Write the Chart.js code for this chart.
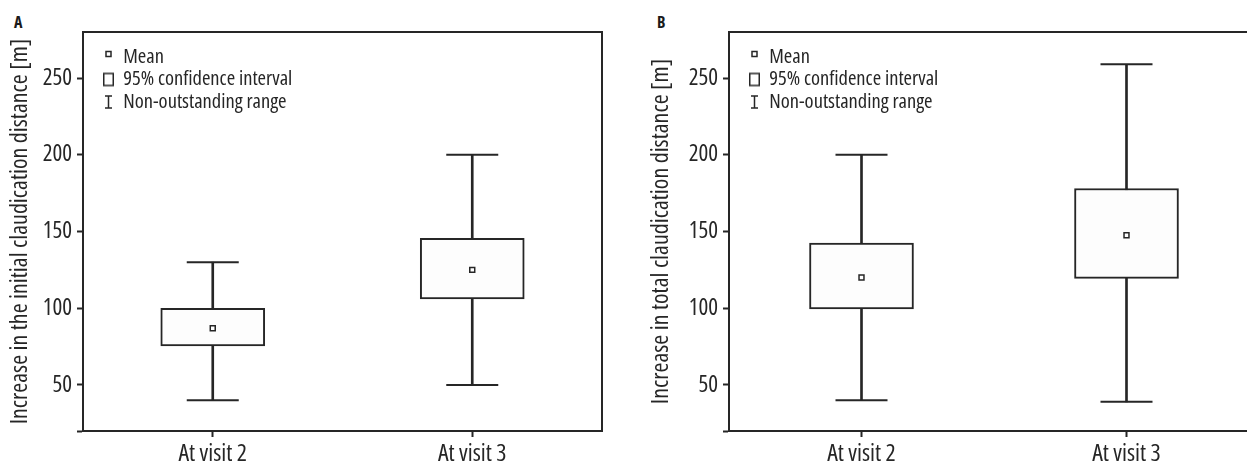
<!DOCTYPE html>
<html lang="en">
<head>
  <meta charset="UTF-8" />
  <title>Claudication distance</title>
  <script src="https://cdn.jsdelivr.net/npm/chart.js"></script>
  <style>
    body {
      margin: 0;
      width: 1247px;
      height: 464px;
      overflow: hidden;
      position: relative;
      background: #fff;
      font-family: "Open Sans", sans-serif;
      font-stretch: condensed;
      color: #1a1a1a;
    }
    .panel {
      position: absolute;
      top: 0;
      height: 464px;
    }
    .tag {
      position: absolute;
      top: 14px;
      font-size: 16px;
      line-height: 16px;
      font-weight: bold;
    }
  </style>
</head>
<body>
  <div class="tag" style="left:14px">A</div>
  <div class="tag" style="left:657px">B</div>
  <div class="panel" style="left:0; width:620px"><canvas id="chartA"></canvas></div>
  <div class="panel" style="left:641px; width:640px"><canvas id="chartB"></canvas></div>

  <script>
    const categories = ['At visit 2', 'At visit 3'];
    const yTicks = [50, 100, 150, 200, 250];
    const yMin = 20;
    const yMax = 280;

    // A: initial claudication distance
    const aWhiskerLow = [40, 50];
    const aWhiskerHigh = [130, 200];
    const aCiLow = [75.5, 106];
    const aCiHigh = [100, 145.5];
    const aMean = [87, 125];

    // B: total claudication distance
    const bWhiskerLow = [40, 39];
    const bWhiskerHigh = [200, 259];
    const bCiLow = [99.5, 119.5];
    const bCiHigh = [142.5, 178];
    const bMean = [120, 147.5];

    const ink = '#262626';
    // Open Sans squeezed through the font shorthand (weight slot carries the stretch keyword)
    const narrow = (size) => ({ family: '"Open Sans"', weight: 'condensed', size: size });

    function icon(draw) {
      const c = document.createElement('canvas');
      c.width = 32;
      c.height = 24;
      const g = c.getContext('2d');
      g.strokeStyle = ink;
      g.lineWidth = 1.5;
      draw(g);
      return c;
    }
    const meanIcon = icon(g => { g.fillStyle = '#fff'; g.fillRect(23, 6.5, 5, 5); g.strokeRect(23, 6.5, 5, 5); });
    const ciIcon = icon(g => { g.strokeRect(20.75, 6, 9.5, 12); });
    const rangeIcon = icon(g => {
      g.beginPath();
      g.moveTo(22, 6); g.lineTo(29, 6);
      g.moveTo(25.5, 6); g.lineTo(25.5, 18);
      g.moveTo(22, 18); g.lineTo(29, 18);
      g.stroke();
    });

    const frame = {
      id: 'frame',
      beforeDatasetsDraw(chart) {
        const { ctx, chartArea: a } = chart;
        ctx.save();
        ctx.strokeStyle = ink;
        ctx.lineWidth = 2;
        ctx.beginPath();
        ctx.moveTo(a.left, a.top);
        ctx.lineTo(a.right, a.top);
        ctx.lineTo(a.right, a.bottom);
        ctx.stroke();
        ctx.restore();
      }
    };

    function makeChart(id, yTitle, axisWidth, padRight, lo, hi, ciLo, ciHi, mean) {
      const ctx = document.getElementById(id).getContext('2d');
      return new Chart(ctx, {
        type: 'bar',
        data: {
          labels: categories,
          datasets: [
            {
              label: 'range',
              data: lo.map((v, i) => [v, hi[i]]),
              backgroundColor: ink,
              barThickness: 2,
              grouped: false,
              order: 3
            },
            {
              label: 'ci',
              data: ciLo.map((v, i) => [v, ciHi[i]]),
              backgroundColor: '#fdfdfd',
              borderColor: ink,
              borderWidth: 2,
              borderSkipped: false,
              barThickness: 104,
              grouped: false,
              order: 2
            },
            {
              type: 'line',
              label: 'upper',
              data: hi,
              showLine: false,
              pointStyle: 'line',
              pointRadius: 26,
              pointHoverRadius: 26,
              borderColor: ink,
              borderWidth: 2,
              order: 1
            },
            {
              type: 'line',
              label: 'lower',
              data: lo,
              showLine: false,
              pointStyle: 'line',
              pointRadius: 26,
              pointHoverRadius: 26,
              borderColor: ink,
              borderWidth: 2,
              order: 1
            },
            {
              type: 'line',
              label: 'mean',
              data: mean,
              showLine: false,
              pointStyle: 'rect',
              pointRadius: 3.5,
              backgroundColor: '#fff',
              borderColor: ink,
              borderWidth: 1.5,
              order: 0
            }
          ]
        },
        options: {
          responsive: true,
          maintainAspectRatio: false,
          animation: false,
          // the wide cap points would otherwise push the plot in from the right
          layout: { autoPadding: false, padding: { top: 32, right: padRight, bottom: 0, left: 0 } },
          plugins: {
            tooltip: { enabled: false },
            legend: {
              position: 'chartArea',
              align: 'start',
              fullSize: false,
              title: { display: true, text: '', font: { size: 10, lineHeight: 1 }, padding: { top: 34.7, bottom: 0 } },
              labels: {
                usePointStyle: true,
                pointStyleWidth: 28,
                padding: 2,
                color: ink,
                font: narrow(20.5),
                generateLabels: () => [
                  { text: 'Mean', pointStyle: meanIcon, fontColor: ink, lineWidth: 0, hidden: false },
                  { text: '95% confidence interval', pointStyle: ciIcon, fontColor: ink, lineWidth: 0, hidden: false },
                  { text: 'Non-outstanding range', pointStyle: rangeIcon, fontColor: ink, lineWidth: 0, hidden: false }
                ]
              }
            }
          },
          scales: {
            x: {
              offset: true,
              grid: { offset: false, drawOnChartArea: false, tickLength: 6, tickWidth: 2, tickColor: ink },
              border: { color: ink, width: 2 },
              ticks: { color: ink, padding: 3, font: narrow(24) },
              afterFit: s => { s.height = 33; s.paddingLeft = 0; s.paddingRight = 0; }
            },
            y: {
              min: yMin,
              max: yMax,
              grid: { drawOnChartArea: false, tickLength: 6, tickWidth: 2, tickColor: ink },
              border: { color: ink, width: 2 },
              ticks: {
                color: ink,
                padding: 5,
                font: narrow(23),
                callback: v => (yTicks.includes(v) ? v : '')
              },
              afterBuildTicks: s => { s.ticks = [yMin, ...yTicks].map(v => ({ value: v })); },
              title: {
                display: true,
                text: yTitle,
                color: ink,
                font: narrow(24),
                padding: { top: 6, bottom: 0 }
              },
              afterFit: s => { s.width = axisWidth; }
            }
          }
        },
        plugins: [frame]
      });
    }

    makeChart('chartA', 'Increase in the initial claudication distance [m]', 83, 18,
      aWhiskerLow, aWhiskerHigh, aCiLow, aCiHigh, aMean);
    makeChart('chartB', 'Increase in total claudication distance [m]', 88, 22,
      bWhiskerLow, bWhiskerHigh, bCiLow, bCiHigh, bMean);
  </script>
</body>
</html>
